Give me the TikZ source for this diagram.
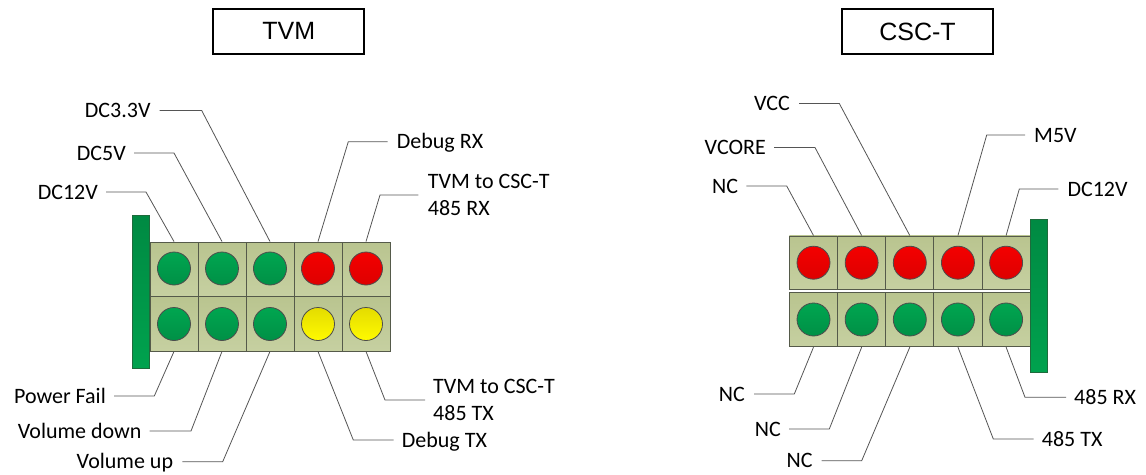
\documentclass[tikz,border=0pt]{standalone}
\usepackage{fontspec}
\setmainfont{Carlito}
\newfontfamily\arialfont{Liberation Sans}
\definecolor{celltop}{HTML}{B9C48F}
\definecolor{cellbot}{HTML}{C6D0A1}
\definecolor{cellborder}{HTML}{555A4A}
\definecolor{gtop}{HTML}{00A650}
\definecolor{gbot}{HTML}{009046}
\definecolor{rtop}{HTML}{F40000}
\definecolor{rbot}{HTML}{DE0000}
\definecolor{ytop}{HTML}{E4DC00}
\definecolor{ybot}{HTML}{FFFA00}
\definecolor{barfill}{HTML}{00A24E}
\definecolor{barborder}{HTML}{1E6B3C}
\definecolor{leadcol}{HTML}{555555}
\begin{document}
\begin{tikzpicture}[x=1pt,y=-1pt,
  cellbox/.style={draw=cellborder, line width=0.9pt, top color=celltop, bottom color=cellbot,
    minimum width=48pt, minimum height=54pt, inner sep=0pt},
  led/.style={circle, draw=black!70, line width=0.8pt, minimum size=33pt, inner sep=0pt},
  ledg/.style={led, top color=gtop, bottom color=gbot},
  ledr/.style={led, top color=rtop, bottom color=rbot},
  ledy/.style={led, top color=ytop, bottom color=ybot},
  bar/.style={draw=barborder, line width=0.8pt, top color=barfill!85!black, bottom color=barfill},
  lbl/.style={font=\fontsize{22}{27}\selectfont, inner sep=0pt, text height=14pt, text depth=0pt},
  lbltwo/.style={font=\fontsize{22}{27}\selectfont, inner sep=0pt, align=left},
  lead/.style={draw=leadcol, line width=0.8pt},
  titlebox/.style={draw=black, line width=2pt, font=\arialfont\fontsize{25}{30}\selectfont,
    minimum width=151pt, minimum height=45pt, inner sep=0pt}
]
\useasboundingbox (0,0) rectangle (1146,474);

% titles
\node[titlebox] (tvm) at (288.8,31.2) {TVM};
\node[titlebox] (csct) at (917.5,31.5) {CSC-T};

% ---------------- TVM connector ----------------
\foreach \i/\c in {1/g,2/g,3/g,4/r,5/r} {
  \node[cellbox] (t\i) at ({174+48*(\i-1)},269) {};
  \node[led\c] (tl\i) at ({174+48*(\i-1)},268.5) {};
}
\foreach \i/\c in {1/g,2/g,3/g,4/y,5/y} {
  \node[cellbox, minimum height=55pt] (b\i) at ({174+48*(\i-1)},323.5) {};
  \node[led\c] (bl\i) at ({174+48*(\i-1)},324) {};
}
\node[bar, minimum width=17pt, minimum height=153pt, inner sep=0pt] (tbar) at (140.7,291.5) {};

% TVM top labels
\node[lbl, anchor=east] (dc12) at (98,192) {DC12V};
\coordinate (k1) at (146,192);
\draw[lead] ([xshift=8pt]dc12.east) -- (k1) -- (t1.north);

\node[lbl, anchor=east] (dc5) at (126,153) {DC5V};
\coordinate (k2) at (174,153);
\draw[lead] ([xshift=8pt]dc5.east) -- (k2) -- (t2.north);

\node[lbl, anchor=east] (dc33) at (150.7,110.5) {DC3.3V};
\coordinate (k3) at (201.7,110.5);
\draw[lead] ([xshift=9pt]dc33.east) -- (k3) -- (t3.north);

\node[lbl, anchor=west] (dbgrx) at (396.7,141.7) {Debug RX};
\coordinate (k4) at (348.3,141.7);
\draw[lead] ([xshift=-9pt]dbgrx.west) -- (k4) -- (t4.north);

\node[lbltwo, anchor=west] (rx485) at (427.7,195) {TVM to CSC-T\\485 RX};
\coordinate (k5) at (380,195);
\draw[lead] (418.3,195) coordinate (s5) (s5) -- (k5) -- (t5.north);

% TVM bottom labels
\node[lbl, anchor=east] (pf) at (106,396) {Power Fail};
\coordinate (m1) at (154.3,396);
\draw[lead] ([xshift=8pt]pf.east) -- (m1) -- (b1.south);

\node[lbl, anchor=east] (vd) at (141.7,431) {Volume down};
\coordinate (m2) at (191,431);
\draw[lead] ([xshift=8pt]vd.east) -- (m2) -- (b2.south);

\node[lbl, anchor=east] (vu) at (173.3,461.7) {Volume up};
\coordinate (m3) at (222.7,461.7);
\draw[lead] ([xshift=9pt]vu.east) -- (m3) -- (b3.south);

\node[lbl, anchor=west] (dbgtx) at (401.7,440) {Debug TX};
\coordinate (m4) at (353.3,440);
\draw[lead] ([xshift=-8pt]dbgtx.west) -- (m4) -- (b4.south);

\node[lbltwo, anchor=west] (tx485) at (433,400) {TVM to CSC-T\\485 TX};
\coordinate (m5) at (385,400);
\draw[lead] ([xshift=-8pt]tx485.west) -- (m5) -- (b5.south);

% ---------------- CSC-T connector ----------------
\foreach \i in {1,...,5} {
  \node[cellbox, minimum width=48.2pt, minimum height=53.5pt] (u\i) at ({813.5+48.15*(\i-1)},262.7) {};
  \node[ledr] (ul\i) at ({813.5+48.15*(\i-1)},262.7) {};
  \node[cellbox, minimum width=48.2pt, minimum height=54pt] (v\i) at ({813.5+48.15*(\i-1)},319.7) {};
  \node[ledg] (vl\i) at ({813.5+48.15*(\i-1)},319.5) {};
}
\node[bar, minimum width=17.5pt, minimum height=153pt, inner sep=0pt] (cbar) at (1039,295.8) {};

% CSC-T top labels
\node[lbl, anchor=east] (vcc) at (790,103.5) {VCC};
\coordinate (p3) at (839.3,103.5);
\draw[lead] ([xshift=9pt]vcc.east) -- (p3) -- (u3.north);

\node[lbl, anchor=east] (vcore) at (766,147.5) {VCORE};
\coordinate (p2) at (815,147.5);
\draw[lead] ([xshift=8pt]vcore.east) -- (p2) -- (u2.north);

\node[lbl, anchor=east] (nca) at (738.3,186) {NC};
\coordinate (p1) at (786.7,186);
\draw[lead] ([xshift=8pt]nca.east) -- (p1) -- (u1.north);

\node[lbl, anchor=west] (m5v) at (1034,135) {M5V};
\coordinate (p4) at (986.7,135);
\draw[lead] ([xshift=-9pt]m5v.west) -- (p4) -- (u4.north);

\node[lbl, anchor=west] (dc12b) at (1067.3,189) {DC12V};
\coordinate (p5) at (1019.3,189);
\draw[lead] ([xshift=-9pt]dc12b.west) -- (p5) -- (u5.north);

% CSC-T bottom labels
\node[lbl, anchor=east] (ncb) at (745,394) {NC};
\coordinate (q1) at (794.3,394);
\draw[lead] ([xshift=9pt]ncb.east) -- (q1) -- (v1.south);

\node[lbl, anchor=east] (ncc) at (781,429) {NC};
\coordinate (q2) at (829.3,429);
\draw[lead] ([xshift=8pt]ncc.east) -- (q2) -- (v2.south);

\node[lbl, anchor=east] (ncd) at (812.7,460.7) {NC};
\coordinate (q3) at (861.7,460.7);
\draw[lead] ([xshift=9pt]ncd.east) -- (q3) -- (v3.south);

\node[lbl, anchor=west] (tx) at (1041.7,439) {485 TX};
\coordinate (q4) at (993.3,439);
\draw[lead] ([xshift=-8pt]tx.west) -- (q4) -- (v4.south);

\node[lbl, anchor=west] (rx) at (1074,397.3) {485 RX};
\coordinate (q5) at (1025,397.3);
\draw[lead] ([xshift=-8pt]rx.west) -- (q5) -- (v5.south);
\end{tikzpicture}
\end{document}
